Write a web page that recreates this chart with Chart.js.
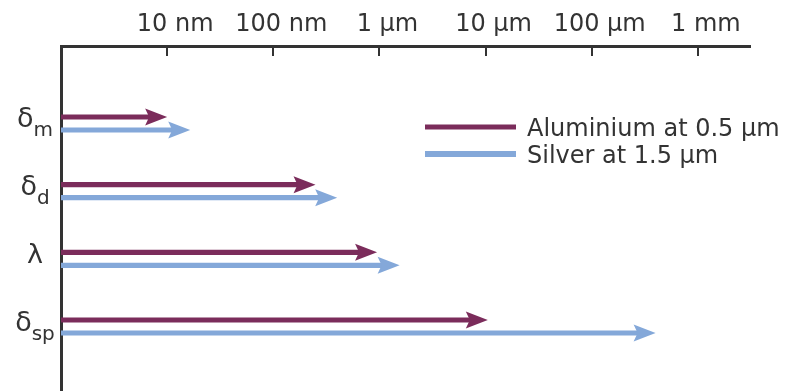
<!DOCTYPE html>
<html>
<head>
<meta charset="utf-8">
<script src="https://cdn.jsdelivr.net/npm/chart.js@4"></script>
<style>
    body { margin: 0; background: #fff; }
    #contenedor { width: 802px; height: 391px; position: relative; }
</style>
</head>
<body>
<div id="contenedor"><canvas id="graficoLongitudes"></canvas></div>
<script>
// Longitudes características (en nm) para cada material
const simbolos = ['δ', 'δ', 'λ', 'δ'];
const subindices = ['m', 'd', '', 'sp'];
const aluminio = [10, 250, 950, 10500];
const plata = [16.5, 400, 1550, 400000];
const series = ['Aluminium at 0.5 µm', 'Silver at 1.5 µm'];
const marcasX = [10, 100, 1000, 10000, 100000, 1000000];
const etiquetasX = ['10 nm', '100 nm', '1 µm', '10 µm', '100 µm', '1 mm'];

const colorTexto = '#333';
const fuente = '"DejaVu Sans"';

Chart.defaults.font.family = fuente;
Chart.defaults.color = colorTexto;

// Recorta la barra antes de la punta y dibuja la cabeza de flecha
const flechas = {
    id: 'flechas',
    beforeDatasetDraw(chart, args) {
        const ctx = chart.ctx;
        const izq = chart.chartArea.left;
        ctx.save();
        ctx.beginPath();
        args.meta.data.forEach(barra => {
            ctx.rect(izq, barra.y - 10, barra.x - 12 - izq, 20);
        });
        ctx.clip();
    },
    afterDatasetDraw(chart, args) {
        const ctx = chart.ctx;
        ctx.restore();
        ctx.fillStyle = chart.data.datasets[args.index].backgroundColor;
        args.meta.data.forEach(barra => {
            ctx.beginPath();
            ctx.moveTo(barra.x, barra.y);
            ctx.lineTo(barra.x - 22, barra.y - 8.5);
            ctx.lineTo(barra.x - 18, barra.y);
            ctx.lineTo(barra.x - 22, barra.y + 8.5);
            ctx.closePath();
            ctx.fill();
        });
    }
};

// Marcas del eje superior, etiquetas con subíndice y leyenda
const decoracion = {
    id: 'decoracion',
    afterDraw(chart) {
        const { ctx, chartArea, scales: { x, y } } = chart;
        ctx.save();

        ctx.strokeStyle = colorTexto;
        ctx.lineWidth = 2;
        x.ticks.forEach(t => {
            const px = Math.round(x.getPixelForValue(t.value));
            ctx.beginPath();
            ctx.moveTo(px, chartArea.top);
            ctx.lineTo(px, chartArea.top + 10);
            ctx.stroke();
        });

        ctx.fillStyle = colorTexto;
        ctx.textBaseline = 'alphabetic';
        simbolos.forEach((s, i) => {
            const py = y.getPixelForValue(i);
            ctx.font = '27px ' + fuente;
            const w1 = ctx.measureText(s).width;
            ctx.font = '20px ' + fuente;
            const w2 = ctx.measureText(subindices[i]).width;
            const x0 = chartArea.left - 26 - (w1 + w2) / 2;
            ctx.font = '27px ' + fuente;
            ctx.fillText(s, x0, py + 4);
            ctx.font = '20px ' + fuente;
            ctx.fillText(subindices[i], x0 + w1, py + 13);
        });

        const lx = chartArea.left + 364;
        const ly = chartArea.top + 81;
        chart.data.datasets.forEach((ds, i) => {
            const yy = ly + i * 27;
            const grosor = i === 0 ? 5 : 6;
            ctx.fillStyle = ds.backgroundColor;
            ctx.fillRect(lx, yy - grosor / 2, 91, grosor);
            ctx.fillStyle = colorTexto;
            ctx.font = '24px ' + fuente;
            ctx.textBaseline = 'middle';
            ctx.fillText(ds.label, lx + 102, yy + 2.5);
        });
        ctx.restore();
    }
};

new Chart(document.getElementById('graficoLongitudes'), {
    type: 'bar',
    data: {
        datasets: [
            {
                label: series[0],
                data: aluminio.map((v, i) => ({ x: v, y: i })),
                backgroundColor: '#7b2c5b'
            },
            {
                label: series[1],
                data: plata.map((v, i) => ({ x: v, y: i })),
                backgroundColor: '#84a8d9'
            }
        ]
    },
    options: {
        indexAxis: 'y',
        responsive: true,
        maintainAspectRatio: false,
        animation: false,
        events: [],
        datasets: {
            bar: { categoryPercentage: 0.384, barPercentage: 0.4, borderWidth: 0 }
        },
        layout: { padding: { left: 0, right: 52, top: 0, bottom: 0 } },
        plugins: {
            legend: { display: false },
            tooltip: { enabled: false }
        },
        scales: {
            x: {
                type: 'logarithmic',
                position: 'top',
                min: 1,
                max: 3.1e6,
                bounds: 'data',
                beginAtZero: false,
                grid: { display: false, drawTicks: false },
                border: { display: true, color: colorTexto, width: 3 },
                afterBuildTicks: s => { s.ticks = marcasX.map(v => ({ value: v })); },
                afterFit: s => { s.height = 46; },
                ticks: {
                    autoSkip: false,
                    maxRotation: 0,
                    padding: 7,
                    labelOffset: 8,
                    color: colorTexto,
                    font: { size: 24 },
                    callback: (v, i) => etiquetasX[i]
                }
            },
            y: {
                type: 'linear',
                position: 'left',
                reverse: true,
                min: -1.145,
                max: 3.953,
                bounds: 'data',
                offset: false,
                z: 1,
                grid: { display: false, drawTicks: false, offset: false },
                border: { display: true, color: colorTexto, width: 3 },
                afterBuildTicks: s => { s.ticks = simbolos.map((_, i) => ({ value: i })); },
                afterFit: s => { s.width = 61; },
                ticks: { display: false }
            }
        }
    },
    plugins: [flechas, decoracion]
});
</script>
</body>
</html>
